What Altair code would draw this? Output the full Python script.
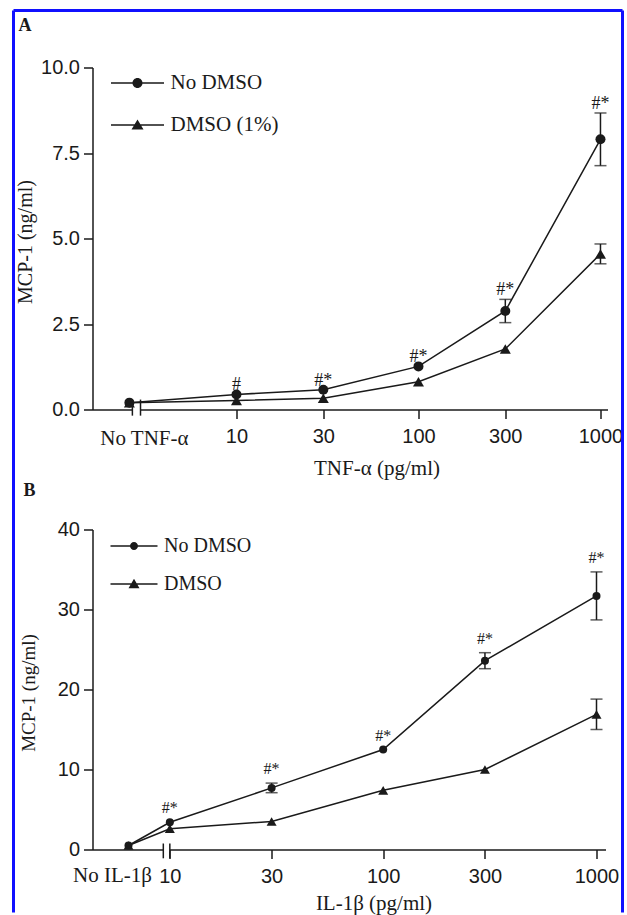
import altair as alt
import pandas as pd

INK = "#1a1a1a"
BLUE = "#1010ff"
SERIF = "Liberation Serif"
SANS = "Liberation Sans"

# ---------------- Panel A : TNF-alpha ----------------
a_doses = [None, 10, 30, 100, 300, 1000]          # None = untreated control
a_series = ["No DMSO", "DMSO (1%)"]
a_no_dmso = [0.20, 0.44, 0.58, 1.26, 2.88, 7.90]
a_no_dmso_err = [0, 0, 0, 0, 0.34, 0.77]
a_dmso = [0.20, 0.26, 0.33, 0.81, 1.77, 4.55]
a_dmso_err = [0, 0, 0, 0, 0, 0.29]
a_marks = ["", "#", "#*", "#*", "#*", "#*"]
a_ticks_y = [0, 2.5, 5.0, 7.5, 10.0]
a_ticks_x = [10, 30, 100, 300, 1000]

# ---------------- Panel B : IL-1beta ----------------
b_doses = [None, 10, 30, 100, 300, 1000]
b_series = ["No DMSO", "DMSO"]
b_no_dmso = [0.5, 3.4, 7.7, 12.5, 23.6, 31.7]
b_no_dmso_err = [0, 0, 0.6, 0, 1.0, 3.0]
b_dmso = [0.5, 2.6, 3.5, 7.4, 10.0, 16.9]
b_dmso_err = [0, 0, 0, 0, 0, 1.9]
b_marks = ["", "#*", "#*", "#*", "#*", "#*"]
b_ticks_y = [0, 10, 20, 30, 40]
b_ticks_x = [10, 30, 100, 300, 1000]


def legend_paths(half, r, tw, th):
    """Legend glyphs: a short line with a circle / triangle in its middle (all filled)."""
    bar = "M-%g,-0.075H%gV0.075H-%gZ" % (half, half, half)
    circ = "M-%g,0A%g,%g,0,1,1,%g,0A%g,%g,0,1,1,-%g,0Z" % (r, r, r, r, r, r, r)
    tri = "M0,-%gL%g,%gL-%g,%gZ" % (th * 0.55, tw / 2, th * 0.45, tw / 2, th * 0.45)
    return [bar + circ, bar + tri]


def panel(doses, series, vals, errs, marks, ticks_x, ticks_y, c):
    rows = []
    for s, vl, el in zip(series, vals, errs):
        for i, (d, v, e) in enumerate(zip(doses, vl, el)):
            rows.append({
                "series": s,
                "x": c["ctrl"] if d is None else d,
                "y": v, "lo": v - e, "hi": v + e, "err": e,
                "note": marks[i] if s == series[0] else "",
            })
    df = pd.DataFrame(rows)

    xs = alt.Scale(type="log", domain=c["xdom"], nice=False)
    ys = alt.Scale(domain=[0, ticks_y[-1]], nice=False, zero=True)

    x_axis = alt.Axis(
        values=ticks_x, format="d",
        grid=False, tickSize=9, tickWidth=1.5, tickColor=INK,
        domainColor=INK, domainWidth=1.5,
        labelFont=SANS, labelFontSize=20, labelPadding=8,
        labelColor=INK, labelOverlap=False, labelFlush=False, labelBound=False,
        title=c["xtitle"], titleFont=SERIF, titleFontSize=21, titleFontWeight="normal",
        titleColor=INK, titleX=c["xtitle_x"], titleY=c["xtitle_y"],
        titleBaseline="middle", titleAlign="center",
    )
    y_axis = alt.Axis(
        values=ticks_y, format=c["yfmt"], grid=False,
        tickSize=9, tickWidth=1.5, tickColor=INK, domainColor=INK, domainWidth=1.5,
        labelFont=SANS, labelFontSize=20, labelColor=INK, labelPadding=4,
        title="MCP-1 (ng/ml)", titleFont=SERIF, titleFontSize=c["ytitle_size"],
        titleFontWeight="normal", titleColor=INK, titleAngle=270,
        titleX=c["ytitle_x"], titleY=c["ytitle_y"], titleBaseline="middle", titleAlign="center",
    )

    def X(f):
        return alt.X(f, type="quantitative", scale=xs, axis=x_axis)

    def Y(f):
        return alt.Y(f, type="quantitative", scale=ys, axis=y_axis)

    base = alt.Chart(df)

    lines = base.mark_line(color=INK, strokeWidth=1.5).encode(x=X("x"), y=Y("y"), detail="series:N")

    bars = base.transform_filter("datum.err > 0").mark_errorbar(
        ticks=True, size=c["cap"], thickness=1.5, color=INK
    ).encode(x=X("x"), y=Y("lo"), y2="hi:Q")

    pts = base.mark_point(filled=True, opacity=1, strokeWidth=0, color=INK).encode(
        x=X("x"), y=Y("y"),
        shape=alt.Shape("series:N", scale=alt.Scale(domain=series, range=["circle", "triangle-up"]), legend=None),
        size=alt.Size("series:N", scale=alt.Scale(domain=series, range=c["sizes"]), legend=None),
    )

    leg = base.mark_point(filled=True, opacity=0, color=INK, strokeWidth=0).encode(
        x=X("x"), y=Y("y"),
        shape=alt.Shape(
            "series:N",
            scale=alt.Scale(domain=series, range=c["leg_paths"]),
            legend=alt.Legend(
                title=None, orient="none", legendX=c["leg_x"], legendY=c["leg_y"],
                labelFont=SERIF, labelFontSize=c["leg_font"], labelColor=INK,
                symbolSize=400, symbolStrokeWidth=0, symbolOpacity=1,
                symbolFillColor=INK,
                labelOffset=c["leg_label_off"], rowPadding=c["leg_row_pad"], padding=0, offset=0,
            ),
        ),
    )

    notes = base.transform_filter("datum.note != ''").mark_text(
        font=SERIF, fontSize=c["note_size"], baseline="alphabetic", align="center",
        dy=c["note_dy"], color=INK,
    ).encode(x=X("x"), y=Y("hi"), text="note:N")

    # label of the untreated control, set under the axis at the control position
    ctrl = pd.DataFrame({"cx": [c["ctrl"]], "cy": [0.0], "label": [c["ctrl_label"]]})
    ctrl_txt = alt.Chart(ctrl).mark_text(
        font=SERIF, fontSize=21, baseline="middle", align="center",
        dx=c["ctrl_dx"], dy=c["ctrl_dy"], color=INK,
    ).encode(x=X("cx"), y=Y("cy"), text="label:N")

    # axis break on the x axis
    brk = pd.DataFrame({"b0": [c["brk"][0]], "b1": [c["brk"][1]], "zero": [0.0]})
    gap = alt.Chart(brk).mark_rule(color="white", strokeWidth=4).encode(
        x=X("b0"), x2="b1:Q", y=Y("zero"),
    )
    brk_marks = pd.DataFrame({"bx": c["brk"], "blo": [c["brk_span"][0]] * 2, "bhi": [c["brk_span"][1]] * 2})
    brk_rules = alt.Chart(brk_marks).mark_rule(color=INK, strokeWidth=1.5).encode(
        x=X("bx"), y=Y("blo"), y2="bhi:Q",
    )

    # blue frame of the figure
    one = pd.DataFrame({"k": [0]})
    frame = []
    for fx, fy, fy2 in c["frame_v"]:
        frame.append(alt.Chart(one).mark_rule(color=BLUE, strokeWidth=3).encode(
            x=alt.value(fx), y=alt.value(fy), y2=alt.value(fy2)))
    for fy, fx, fx2 in c["frame_h"]:
        frame.append(alt.Chart(one).mark_rule(color=BLUE, strokeWidth=3).encode(
            y=alt.value(fy), x=alt.value(fx), x2=alt.value(fx2)))

    layer = alt.layer(
        lines, gap, brk_rules, bars, pts, leg, notes, ctrl_txt, *frame
    ).resolve_scale(shape="independent", size="independent").properties(
        width=c["w"], height=c["h"],
        title=alt.TitleParams(
            text=c["letter"], anchor="start", frame="group", orient="top", offset=0,
            dx=c["title_dx"], dy=c["title_dy"], baseline="alphabetic",
            font=SERIF, fontSize=18, fontWeight="bold", color=INK,
        ),
    )
    return layer


chart_a = panel(
    a_doses, a_series, [a_no_dmso, a_dmso], [a_no_dmso_err, a_dmso_err], a_marks, a_ticks_x, a_ticks_y,
    dict(
        ctrl=2.58, ctrl_label="No TNF-α", ctrl_dx=15, ctrl_dy=29.5,
        xdom=[1.618, 1093], yfmt=".1f", w=515, h=342,
        xtitle="TNF-α (pg/ml)", xtitle_x=284, xtitle_y=59,
        ytitle_x=-67, ytitle_y=174, ytitle_size=20,
        cap=12, sizes=[100, 121],
        leg_paths=legend_paths(2.65, 0.5, 1.2, 1.0),
        leg_x=34.5, leg_y=5, leg_font=21, leg_label_off=22.5, leg_row_pad=20,
        note_size=18, note_dy=-4,
        brk=[2.68, 2.97], brk_span=[-0.18, 0.29],
        frame_v=[(-79, -57, 462), (530, -57, 462)], frame_h=[(-57, -79, 530)],
        letter="A", title_dx=-74, title_dy=40,
    ),
)

chart_b = panel(
    b_doses, b_series, [b_no_dmso, b_dmso], [b_no_dmso_err, b_dmso_err], b_marks, b_ticks_x, b_ticks_y,
    dict(
        ctrl=6.4, ctrl_label="No IL-1β", ctrl_dx=-16, ctrl_dy=26.5,
        xdom=[4.34, 1102], yfmt="d", w=513, h=320,
        xtitle="IL-1β (pg/ml)", xtitle_x=281, xtitle_y=54,
        ytitle_x=-64, ytitle_y=163, ytitle_size=19,
        cap=12, sizes=[64, 100],
        leg_paths=legend_paths(2.35, 0.4, 1.1, 0.95),
        leg_x=31.5, leg_y=6.5, leg_font=20, leg_label_off=20, leg_row_pad=18,
        note_size=16, note_dy=-9,
        brk=[9.32, 10.0], brk_span=[-1.1, 0.75],
        frame_v=[(-79, -10, 383), (530, -10, 383)], frame_h=[],
        letter="B", title_dx=-69, title_dy=-4,
    ),
)

chart = alt.vconcat(chart_a, chart_b, spacing=120, bounds="flush").properties(
    padding={"left": 11.5, "top": 8.5, "right": 0, "bottom": 0},
    background="white",
).configure_view(stroke=None)

chart.save("out.html", embed_options={"renderer": "svg", "actions": False})
